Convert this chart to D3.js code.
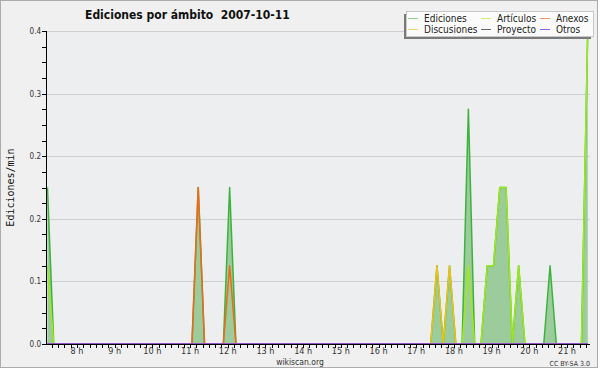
<!DOCTYPE html>
<html><head><meta charset="utf-8">
<script src="https://cdn.jsdelivr.net/npm/d3@7"></script>
<style>
body{margin:0;background:#fff;}
svg{display:block;}
text{white-space:pre;}
</style></head>
<body>
<svg id="c" width="600" height="370"></svg>
<script>
// ---- DATA ----
const titleText = "Ediciones por ámbito  2007-10-11";
const yAxisTitle = "Ediciones/min";
const startTime = "07:13";      // first sample
const stepMinutes = 10;         // sampling interval
// values in edits/min, one per 10-minute sample (07:13 ... 21:33), rows of one hour
const ediciones = [
  0.2,0,0,0,0,0,   0,0,0,0,0,0,   0,0,0,0,0,0,   0,0,0,0,0,0,
  0.2,0,0,0,0,0.2, 0,0,0,0,0,0,   0,0,0,0,0,0,   0,0,0,0,0,0,
  0,0,0,0,0,0,     0,0,0,0,0,0,   0,0,0.1,0,0.1,0, 0,0.3,0,0,0.1,0.1,
  0.2,0.2,0,0.1,0,0, 0,0,0.1,0,0,0, 0,0,0.4
];
const articulos = [
  0.1,0,0,0,0,0,   0,0,0,0,0,0,   0,0,0,0,0,0,   0,0,0,0,0,0,
  0,0,0,0,0,0,     0,0,0,0,0,0,   0,0,0,0,0,0,   0,0,0,0,0,0,
  0,0,0,0,0,0,     0,0,0,0,0,0,   0,0,0,0,0,0,   0,0.1,0,0,0.1,0.1,
  0.2,0.2,0,0.1,0,0, 0,0,0,0,0,0, 0,0,0.4
];
const anexos = [
  0,0,0,0,0,0,     0,0,0,0,0,0,   0,0,0,0,0,0,   0,0,0,0,0,0,
  0.2,0,0,0,0,0.1, 0,0,0,0,0,0,   0,0,0,0,0,0,   0,0,0,0,0,0,
  0,0,0,0,0,0,     0,0,0,0,0,0,   0,0,0,0,0,0,   0,0,0,0,0,0,
  0,0,0,0,0,0,     0,0,0,0,0,0,   0,0,0
];
const discusiones = [
  0,0,0,0,0,0,     0,0,0,0,0,0,   0,0,0,0,0,0,   0,0,0,0,0,0,
  0,0,0,0,0,0,     0,0,0,0,0,0,   0,0,0,0,0,0,   0,0,0,0,0,0,
  0,0,0,0,0,0,     0,0,0,0,0,0,   0,0,0.1,0,0.1,0, 0,0,0,0,0,0,
  0,0,0,0,0,0,     0,0,0,0,0,0,   0,0,0
];
const proyecto = new Array(ediciones.length).fill(0);
const otros = new Array(ediciones.length).fill(0);

const seriesNames = ["Ediciones","Artículos","Anexos","Discusiones","Proyecto","Otros"];
const seriesColors = ["#3db33d","#9fe81c","#f5661a","#efc214","#606060","#9448e6"];
const legendColors = ["#8fd28f","#cdf06a","#f39565","#f3d76a","#6a6a6a","#9b5cf0"];
const xTickHours = [8,9,10,11,12,13,14,15,16,17,18,19,20,21];
const xTickLabels = ["8 h","9 h","10 h","11 h","12 h","13 h","14 h","15 h","16 h","17 h","18 h","19 h","20 h","21 h"];
const yTickValues = [0,0.08,0.16,0.24,0.32,0.4];
const yTickLabels = ["0.0","0.1","0.2","0.2","0.3","0.4"];

// ---- LAYOUT ----
const svg = d3.select("#c");
const W = 600, H = 370;
const L = 46, R = 590, T = 31, B = 344;
const FONT = "'DejaVu Sans Condensed','DejaVu Sans',sans-serif";

const [sh, sm] = startTime.split(":").map(Number);
const hours = ediciones.map((_, i) => sh + (sm + i*stepMinutes)/60);

const x = d3.scaleLinear().domain([7.178, 21.61]).range([L, R]);
const y = d3.scaleLinear().domain([0, 0.4]).range([B, T]);

// background & frame
svg.append("rect").attr("x",0).attr("y",0).attr("width",W).attr("height",H).attr("fill","#fff");
svg.append("rect").attr("x",0.5).attr("y",0.5).attr("width",597).attr("height",367)
   .attr("fill","#f0f0f0").attr("stroke","#acacac");
svg.append("rect").attr("x",L).attr("y",T).attr("width",R-L).attr("height",B-T).attr("fill","#edeef0");

// gridlines
svg.append("g").selectAll("line").data(yTickValues.slice(1)).join("line")
  .attr("x1",L).attr("x2",R).attr("y1",d=>Math.round(y(d))+0.5).attr("y2",d=>Math.round(y(d))+0.5)
  .attr("stroke","#cfcfd0").attr("stroke-width",1);

svg.append("clipPath").attr("id","pc").append("rect")
  .attr("x",L).attr("y",T-1).attr("width",R-L).attr("height",B-T+1);
const plot = svg.append("g").attr("clip-path","url(#pc)");

// area of total
const area = d3.area().x((d,i)=>x(hours[i])).y0(y(0)).y1(d=>y(d));
plot.append("path").datum(ediciones).attr("d",area).attr("fill","#9ccc9c");

const line = d3.line().x((d,i)=>x(hours[i])).y(d=>y(d));
const allSeries = [ediciones, articulos, anexos, discusiones, proyecto, otros];
allSeries.forEach((s, k) => {
  plot.append("path").datum(s).attr("d",line).attr("fill","none")
    .attr("stroke",seriesColors[k]).attr("stroke-width",1.5).attr("stroke-linejoin","round");
});

// y axis
const yAxis = svg.append("g");
yAxis.append("line").attr("x1",L+0.5).attr("x2",L+0.5).attr("y1",T).attr("y2",B+1).attr("stroke","#000");
const yMinor = d3.range(0, 21).map(k => k*0.02);
yAxis.selectAll("line.mt").data(yMinor).join("line").attr("class","mt")
  .attr("x1",L-4).attr("x2",L).attr("y1",d=>Math.round(y(d))+0.5).attr("y2",d=>Math.round(y(d))+0.5)
  .attr("stroke","#000");
yAxis.selectAll("text").data(yTickValues).join("text")
  .attr("x",L-5).attr("y",d=>y(d)+3).attr("text-anchor","end")
  .attr("font-family",FONT).attr("font-size",8).attr("fill","#333")
  .text((d,i)=>yTickLabels[i]);

// x axis
const xAxis = svg.append("g");
xAxis.append("line").attr("x1",L).attr("x2",R).attr("y1",B+0.5).attr("y2",B+0.5).attr("stroke","#000");
const xMinor = d3.range(7*6+2, 21*6+4).map(k => k/6);
xAxis.selectAll("line.mt").data(xMinor.filter(h => x(h) >= L && x(h) <= R)).join("line").attr("class","mt")
  .attr("x1",d=>Math.round(x(d))+0.5).attr("x2",d=>Math.round(x(d))+0.5).attr("y1",B).attr("y2",B+4)
  .attr("stroke","#000");
xAxis.selectAll("text").data(xTickHours).join("text")
  .attr("x",d=>x(d)).attr("y",B+10).attr("text-anchor","middle")
  .attr("font-family",FONT).attr("font-size",9).attr("fill","#333")
  .text((d,i)=>xTickLabels[i]);

// titles
svg.append("text").attr("x",85).attr("y",19).attr("font-family",FONT).attr("font-weight","bold")
  .attr("font-size",12).attr("fill","#111").text(titleText);
svg.append("text").attr("transform",`translate(14,${(T+B)/2}) rotate(-90)`).attr("text-anchor","middle")
  .attr("font-family","'DejaVu Sans Mono',monospace").attr("font-size",10).attr("fill","#111").text(yAxisTitle);
svg.append("text").attr("x",300).attr("y",365).attr("text-anchor","middle")
  .attr("font-family",FONT).attr("font-size",8.5).attr("fill","#333").text("wikiscan.org");
svg.append("text").attr("x",590).attr("y",366).attr("text-anchor","end")
  .attr("font-family",FONT).attr("font-size",7).attr("fill","#333").text("CC BY-SA 3.0");

// legend
const lg = svg.append("g");
lg.append("rect").attr("x",404).attr("y",14).attr("width",187).attr("height",25).attr("fill","#7a7a7a");
lg.append("rect").attr("x",406.5).attr("y",11.5).attr("width",187).attr("height",25)
  .attr("fill","#fbfbfb").attr("stroke","#c8c8c8");
const colX = [408, 481, 540];
const rowY = [18.5, 29.5];
seriesNames.forEach((n, k) => {
  const cx = colX[k % 3], cy = rowY[Math.floor(k / 3)];
  lg.append("line").attr("x1",cx).attr("x2",cx+10).attr("y1",cy).attr("y2",cy)
    .attr("stroke",legendColors[k]).attr("stroke-width",1);
  lg.append("text").attr("x",cx+16).attr("y",cy+3.5).attr("font-family",FONT)
    .attr("font-size",10).attr("fill","#222").text(n);
});
</script>
</body></html>
